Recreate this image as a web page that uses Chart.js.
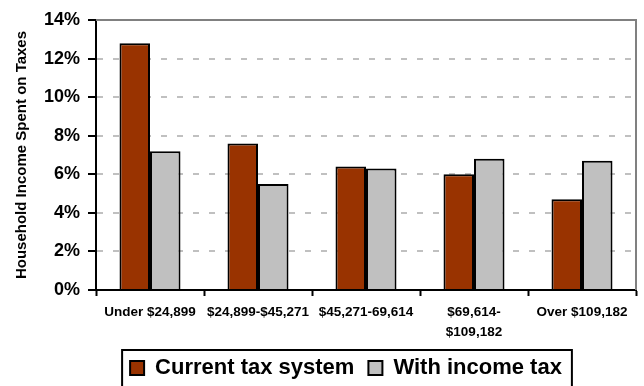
<!DOCTYPE html>
<html>
<head>
<meta charset="utf-8">
<script src="https://cdn.jsdelivr.net/npm/chart.js@4/dist/chart.umd.min.js"></script>
<style>
  html, body { margin: 0; padding: 0; background: #fff; overflow: hidden; }
  canvas { display: block; }
</style>
</head>
<body>
<canvas id="taxChart" width="644" height="389"></canvas>
<script>
var categories = ['Under $24,899', '$24,899-$45,271', '$45,271-69,614', ['$69,614-', '$109,182'], 'Over $109,182'];
var currentTax = [12.8, 7.6, 6.4, 6.0, 4.7];
var withIncomeTax = [7.2, 5.5, 6.3, 6.8, 6.7];
var seriesNames = ['Current tax system', 'With income tax'];
var yMin = 0, yMax = 14, yStep = 2;

Chart.defaults.font.family = '"Liberation Sans", Arial, sans-serif';
Chart.defaults.color = '#000';

// gray frame on top and right of the plot area
var plotFrame = {
  id: 'plotFrame',
  beforeDatasetsDraw: function(chart) {
    var a = chart.chartArea, c = chart.ctx;
    c.save();
    c.strokeStyle = '#808080';
    c.lineWidth = 2;
    c.beginPath();
    c.moveTo(a.left, a.top);
    c.lineTo(a.right, a.top);
    c.lineTo(a.right, a.bottom);
    c.stroke();
    c.restore();
  }
};

// legend sits a bit right of centre and has a black box round it
var legendBox = {
  id: 'legendBox',
  afterLayout: function(chart) {
    chart.legend.left += 28;
    chart.legend.right += 28;
  },
  afterDraw: function(chart) {
    var lg = chart.legend, c = chart.ctx;
    var pad = lg.options.labels.padding;
    var w = lg.lineWidths[0];
    var start = (lg.left + pad + lg.right - w) / 2;
    var end = start + w - pad;
    c.save();
    c.strokeStyle = '#000';
    c.lineWidth = 2;
    c.strokeRect(start - 8, lg.top + 7, end - start + 18, 60);
    c.restore();
  }
};

var ctx = document.getElementById('taxChart').getContext('2d');
var taxChart = new Chart(ctx, {
  type: 'bar',
  data: {
    labels: categories,
    datasets: [{
      label: seriesNames[0],
      data: currentTax,
      backgroundColor: '#993300',
      borderColor: '#000',
      borderWidth: 2
    }, {
      label: seriesNames[1],
      data: withIncomeTax,
      backgroundColor: '#c0c0c0',
      borderColor: '#000',
      borderWidth: 2
    }]
  },
  options: {
    responsive: false,
    animation: false,
    devicePixelRatio: 1,
    categoryPercentage: 0.565,
    barPercentage: 1,
    layout: { padding: { left: 0, right: 8, top: 20, bottom: 0 } },
    plugins: {
      tooltip: { enabled: false },
      legend: {
        position: 'bottom',
        labels: {
          boxWidth: 14,
          boxHeight: 14,
          padding: 14,
          font: { size: 22, weight: 'bold' },
          color: '#000'
        }
      }
    },
    scales: {
      x: {
        afterFit: function(s) { s.height = 53; },
        grid: { drawOnChartArea: false, tickLength: 6, tickWidth: 2, tickColor: '#000' },
        border: { color: '#000', width: 2 },
        ticks: {
          autoSkip: false,
          maxRotation: 0,
          padding: 6,
          font: { size: 13.5, weight: 'bold', lineHeight: 1.48 }
        }
      },
      y: {
        min: yMin,
        max: yMax,
        afterFit: function(s) { s.width = 96; },
        grid: {
          lineWidth: 2,
          color: function(c) {
            var v = c.tick ? c.tick.value : 0;
            return (v === yMin || v === yMax) ? 'rgba(0,0,0,0)' : '#c0c0c0';
          },
          tickLength: 8,
          tickWidth: 2,
          tickColor: '#000'
        },
        border: { color: '#000', width: 2, dash: [6, 10] },
        ticks: {
          stepSize: yStep,
          padding: 8,
          font: { size: 18, weight: 'bold' },
          callback: function(v) { return v + '%'; }
        },
        title: {
          display: true,
          text: 'Household Income Spent on Taxes',
          font: { size: 15, weight: 'bold' },
          padding: { top: 13, bottom: 0 }
        }
      }
    }
  },
  plugins: [plotFrame, legendBox]
});
</script>
</body>
</html>
